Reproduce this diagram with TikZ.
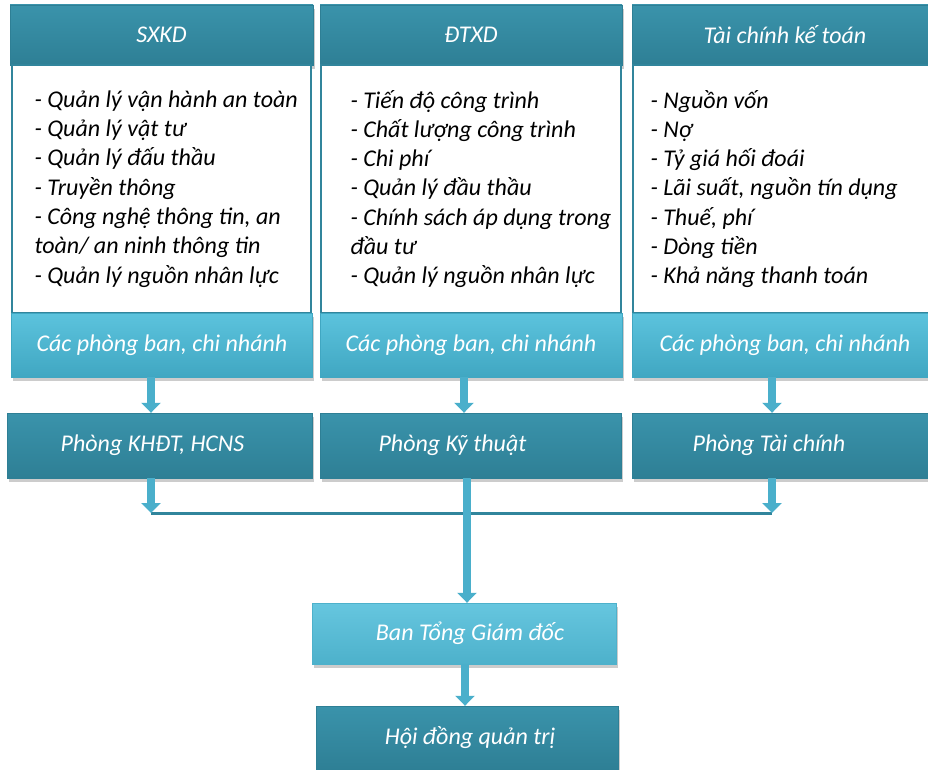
\documentclass[tikz,border=0pt]{standalone}
\usepackage{fontspec}
\setmainfont{Carlito}
\usepackage{xcolor}
\usetikzlibrary{shadows}
\usetikzlibrary{positioning, arrows.meta, calc}

\definecolor{headtop}{HTML}{3A93AB}
\definecolor{headbot}{HTML}{2E7F95}
\definecolor{foottop}{HTML}{5CC3DD}
\definecolor{footbot}{HTML}{40A7C2}
\definecolor{bosstop}{HTML}{66C6DF}
\definecolor{bossbot}{HTML}{4DB1CB}
\definecolor{edgeteal}{HTML}{31859C}
\definecolor{arrowblue}{HTML}{4AAFCB}

\begin{document}
\begin{tikzpicture}[
    x=1pt, y=-1pt,
    every node/.style={font=\fontsize{24}{29.3}\selectfont\itshape},
    boxshadow/.style={drop shadow={shadow xshift=1.5pt, shadow yshift=-4pt, opacity=0.4, fill=gray}},
    head/.style={rectangle, minimum height=60pt, top color=headtop, bottom color=headbot, draw=headbot, text=white, boxshadow},
    body/.style={rectangle, minimum height=248pt, fill=white, draw=edgeteal, line width=2pt},
    itemlist/.style={align=left, anchor=west, text=black},
    foot/.style={rectangle, minimum height=64pt, top color=foottop, bottom color=footbot, draw=footbot, text=white, boxshadow},
    dept/.style={rectangle, minimum height=65pt, top color=headtop, bottom color=headbot, draw=headbot, boxshadow},
    boss/.style={rectangle, minimum height=61pt, top color=bosstop, bottom color=bossbot, draw=bossbot, boxshadow},
    caption/.style={text=white},
    flowarrow/.style={line width=7.5pt, draw=arrowblue, -{Triangle[width=19pt,length=10pt]}},
    joinline/.style={line width=3pt, draw=edgeteal}
]
    \useasboundingbox (0,0) rectangle (928,770);

    % ================= TOP COLUMNS =================
    \node[head, minimum width=303pt] (SXKD) at (161.5, 35) {SXKD};
    \node[head, minimum width=302pt] (DTXD) at (471, 35) {ĐTXD};
    \node[head, minimum width=306pt] (TCKT) at (785, 35) {Tài chính kế toán};

    \node[body, minimum width=299pt] (SXKD_BODY) at (161.5, 189) {};
    \node[body, minimum width=300pt] (DTXD_BODY) at (471, 189) {};
    \node[body, minimum width=304pt] (TCKT_BODY) at (785, 189) {};

    % --- lists ---
    \node[itemlist] (SXKD_LIST) at (31, 189) {- Quản lý vận hành an toàn\\- Quản lý vật tư\\- Quản lý đấu thầu\\- Truyền thông\\- Công nghệ thông tin, an\\toàn/ an ninh thông tin\\- Quản lý nguồn nhân lực};
    \node[itemlist] (DTXD_LIST) at (347, 189) {- Tiến độ công trình\\- Chất lượng công trình\\- Chi phí\\- Quản lý đầu thầu\\- Chính sách áp dụng trong\\đầu tư\\- Quản lý nguồn nhân lực};
    \node[itemlist] (TCKT_LIST) at (647, 189) {- Nguồn vốn\\- Nợ\\- Tỷ giá hối đoái\\- Lãi suất, nguồn tín dụng\\- Thuế, phí\\- Dòng tiền\\- Khả năng thanh toán};

    \node[foot, minimum width=301pt] (SXKD_FOOT) at (162, 345) {Các phòng ban, chi nhánh};
    \node[foot, minimum width=302pt] (DTXD_FOOT) at (471, 345) {Các phòng ban, chi nhánh};
    \node[foot, minimum width=306pt] (TCKT_FOOT) at (785, 345) {Các phòng ban, chi nhánh};

    % ================= DEPARTMENTS =================
    \node[dept, minimum width=305pt, label={[caption, xshift=-7pt]center:Phòng KHĐT, HCNS}] (KHDT) at (159.5, 445.5) {};
    \node[dept, minimum width=301pt, label={[caption, xshift=-18pt]center:Phòng Kỹ thuật}] (KT) at (470.5, 445.5) {};
    \node[dept, minimum width=308pt, label={[caption, xshift=-17pt]center:Phòng Tài chính}] (TC) at (786, 445.5) {};

    % ================= MANAGEMENT =================
    \node[boss, minimum width=304pt, label={[caption, xshift=6pt]center:Ban Tổng Giám đốc}] (BTGD) at (464, 633.5) {};
    \node[dept, minimum width=302pt, minimum height=64pt, label={[caption, xshift=3pt]center:Hội đồng quản trị}] (HDQT) at (467, 738) {};

    \coordinate (JOIN_L) at (151, 513);
    \coordinate (JOIN_R) at (772, 513);

    % ================= CONNECTIONS =================
    \draw[flowarrow] (SXKD_FOOT.south -| JOIN_L) -- (KHDT.north -| JOIN_L);
    \draw[flowarrow] ([xshift=-7pt]DTXD_FOOT.south) -- ([xshift=-7pt]DTXD_FOOT.south |- KT.north);
    \draw[flowarrow] (TCKT_FOOT.south -| JOIN_R) -- (TC.north -| JOIN_R);

    \draw[joinline] (JOIN_L) -- (JOIN_R);
    \draw[flowarrow] (KHDT.south -| JOIN_L) -- (JOIN_L);
    \draw[flowarrow] (TC.south -| JOIN_R) -- (JOIN_R);

    \draw[flowarrow] ([xshift=3pt]KT.south -| BTGD.north) -- ([xshift=3pt]BTGD.north);
    \draw[flowarrow] ([xshift=1pt]BTGD.south) -- ([xshift=1pt]BTGD.south |- HDQT.north);

\end{tikzpicture}
\end{document}
